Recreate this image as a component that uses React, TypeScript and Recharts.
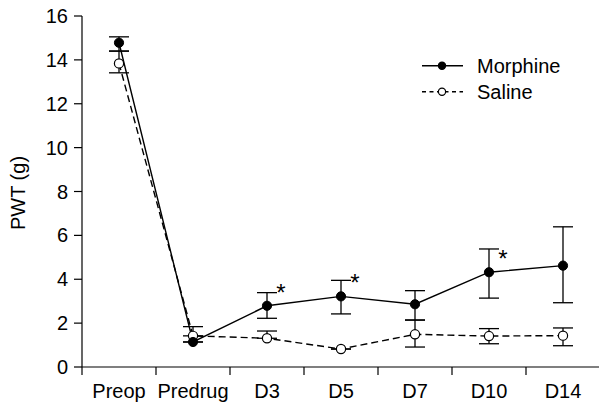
import React from 'react';
import { LineChart, Line, XAxis, YAxis, ErrorBar, LabelList, Legend } from 'recharts';

// дни наблюдения
const categories = ['Preop', 'Predrug', 'D3', 'D5', 'D7', 'D10', 'D14'];

// Morphine: среднее и границы SEM
const morphine = [14.78, 1.14, 2.79, 3.22, 2.86, 4.32, 4.62];
const morphineLow = [14.4, 1.14, 2.22, 2.42, 2.14, 3.14, 2.93];
const morphineHigh = [15.05, 1.14, 3.39, 3.95, 3.48, 5.38, 6.39];

// Saline
const saline = [13.84, 1.42, 1.31, 0.82, 1.49, 1.41, 1.43];
const salineLow = [13.41, 1.42, 1.31, 0.82, 0.91, 1.06, 0.97];
const salineHigh = [14.4, 1.84, 1.64, 0.82, 2.14, 1.75, 1.78];

// значимые отличия (*)
const significant = [false, false, true, true, false, true, false];

const yTicks = [0, 2, 4, 6, 8, 10, 12, 14, 16];

const W = 600;
const H = 403;
const PLOT_LEFT = 82;
const PLOT_TOP = 16;
const X_AXIS_H = 36;
const PLOT_BOTTOM = H - X_AXIS_H;
const BAND = (W - PLOT_LEFT) / categories.length;
const FONT = 20;

const chartData = categories.map((cat, i) => ({
  cat,
  morphine: morphine[i],
  morphineErr: [morphine[i] - morphineLow[i], morphineHigh[i] - morphine[i]],
  saline: saline[i],
  salineErr: [saline[i] - salineLow[i], salineHigh[i] - saline[i]],
}));

const CatTick = ({ x, payload }: any) => (
  <g>
    <line x1={x - BAND / 2} x2={x - BAND / 2} y1={PLOT_BOTTOM} y2={PLOT_BOTTOM + 8} stroke="#000" strokeWidth={1.2} />
    <text x={x} y={PLOT_BOTTOM + 31} textAnchor="middle" fontSize={FONT} fill="#000">
      {payload.value}
    </text>
  </g>
);

const renderStar = (p: any) => {
  if (!significant[p.index]) return null;
  return (
    <text x={p.x + 14} y={p.y - 5} textAnchor="middle" fontSize={24} fill="#000">
      *
    </text>
  );
};

const legendItems = [
  { name: 'Morphine', dash: undefined as string | undefined, fill: '#000' },
  { name: 'Saline', dash: '4 3.5', fill: '#fff' },
];

const renderLegend = () => (
  <svg width={175} height={56}>
    {legendItems.map((it, i) => {
      const cy = 15.7 + i * 26;
      return (
        <g key={it.name}>
          <line x1={4} x2={45} y1={cy} y2={cy} stroke="#000" strokeWidth={1.4} strokeDasharray={it.dash} />
          <circle cx={24} cy={cy} r={3.6} fill={it.fill} stroke="#000" strokeWidth={1.2} />
          <text x={59} y={cy} dominantBaseline="central" fontSize={FONT} fill="#000">
            {it.name}
          </text>
        </g>
      );
    })}
  </svg>
);

const YLabel = () => (
  <text x={18} y={193} transform="rotate(-90, 18, 193)" textAnchor="middle" dominantBaseline="central" fontSize={FONT} fill="#000">
    PWT (g)
  </text>
);

export default function App() {
  return (
    <div
      style={{
        position: 'absolute',
        left: 0,
        top: 0,
        width: 599,
        height: 403,
        overflow: 'hidden',
        background: '#fff',
        fontFamily: '"Liberation Sans", Arial, sans-serif',
      }}
    >
      <LineChart width={W} height={H} data={chartData} margin={{ top: PLOT_TOP, right: 0, bottom: 0, left: 0 }}>
        <XAxis
          dataKey="cat"
          scale="band"
          height={X_AXIS_H}
          interval={0}
          tickLine={false}
          axisLine={{ stroke: '#000', strokeWidth: 1.2 }}
          tick={<CatTick />}
        />
        <YAxis
          type="number"
          domain={[0, 16]}
          ticks={yTicks}
          width={PLOT_LEFT}
          tickSize={8}
          tickMargin={6}
          axisLine={{ stroke: '#000', strokeWidth: 1.2 }}
          tickLine={{ stroke: '#000', strokeWidth: 1.2 }}
          tick={{ fill: '#000', fontSize: FONT }}
          label={<YLabel />}
        />
        <Legend
          layout="vertical"
          align="center"
          verticalAlign="middle"
          content={renderLegend}
          wrapperStyle={{ position: 'absolute', left: 418, top: 50, width: 175, height: 56 }}
        />
        <Line
          dataKey="saline"
          name="Saline"
          stroke="#000"
          strokeWidth={1.4}
          strokeDasharray="7 4"
          dot={{ r: 4.6, fill: '#fff', stroke: '#000', strokeWidth: 1.2, strokeDasharray: '' }}
          activeDot={false}
          isAnimationActive={false}
        >
          <ErrorBar dataKey="salineErr" width={10} stroke="#000" strokeWidth={1.3} direction="y" />
        </Line>
        <Line
          dataKey="morphine"
          name="Morphine"
          stroke="#000"
          strokeWidth={1.4}
          dot={{ r: 4.6, fill: '#000', stroke: '#000', strokeWidth: 1 }}
          activeDot={false}
          isAnimationActive={false}
        >
          <ErrorBar dataKey="morphineErr" width={10} stroke="#000" strokeWidth={1.3} direction="y" />
          <LabelList dataKey="morphine" content={renderStar} />
        </Line>
      </LineChart>
    </div>
  );
}
